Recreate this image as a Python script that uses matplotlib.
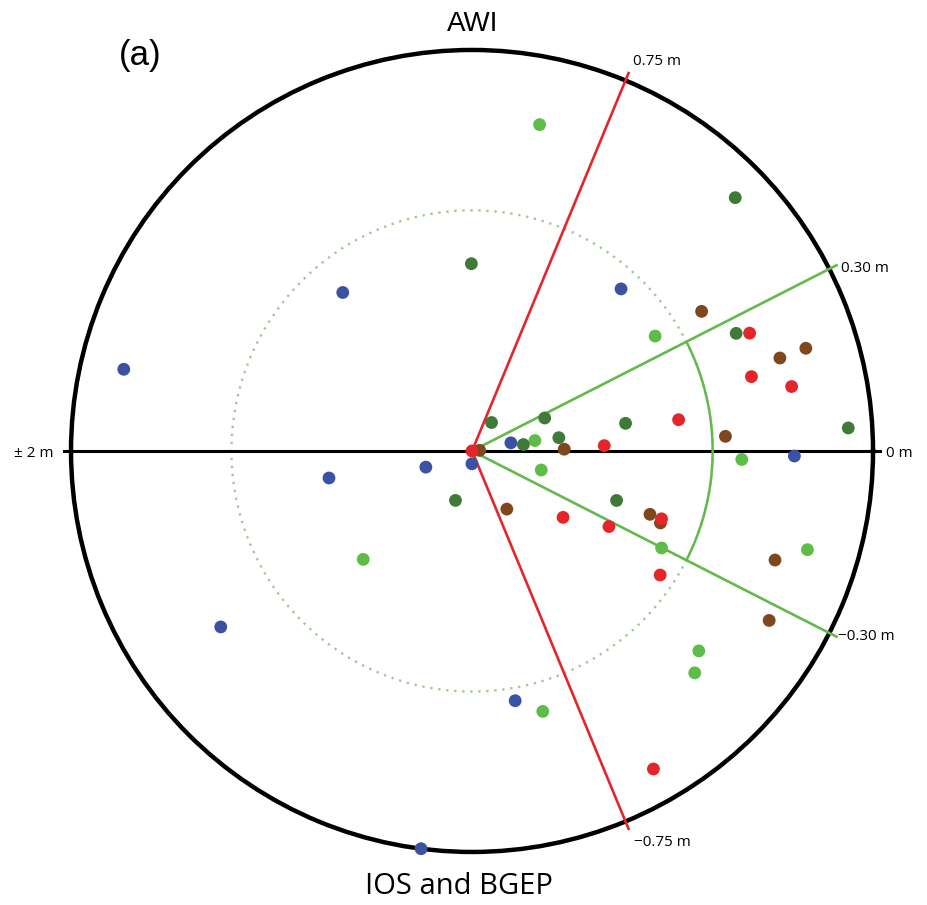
import numpy as np
import matplotlib
matplotlib.use('Agg')
import matplotlib.pyplot as plt

# Each dot: angle in degrees (90 deg per metre of difference, 0 = right)
# and radius normalised to the outer circle.
blue_ang = [129.2, 47.4, 166.8, 11.8, -160.7, -90.5, -169.3, -0.9, -145.0, -80.2, -97.3]
blue_rad = [0.510, 0.549, 0.892, 0.099, 0.122, 0.032, 0.363, 0.804, 0.765, 0.632, 1.0]

lgreen_ang = [78.3, 32.1, 9.4, -15.4, -1.8, -27.1, -16.4, -135.1, -41.4, -44.9, -74.8]
lgreen_rad = [0.831, 0.539, 0.159, 0.179, 0.673, 0.531, 0.872, 0.383, 0.754, 0.784, 0.673]

dgreen_ang = [43.9, 90.2, 24.0, 55.6, 24.4, 10.2, 8.7, 7.1, 3.5, -108.5, -18.9]
dgreen_rad = [0.911, 0.467, 0.721, 0.086, 0.199, 0.389, 0.219, 0.129, 0.940, 0.130, 0.381]

brown_ang = [31.3, 16.8, 17.1, 4.5, 1.1, 3.3, -59.1, -19.6, -20.9, -19.8, -29.7]
brown_rad = [0.670, 0.802, 0.871, 0.019, 0.230, 0.633, 0.169, 0.471, 0.503, 0.803, 0.853]

red_ang = [0.0, 23.0, 14.9, 11.4, 8.6, 2.3, -36.1, -28.9, -19.7, -33.4, -60.3]
red_rad = [0.0, 0.752, 0.721, 0.813, 0.521, 0.330, 0.281, 0.390, 0.502, 0.562, 0.913]

DEG_PER_M = 90.0
green_lim = 0.30   # m
red_lim = 0.75     # m
inner_r = 0.60

C_BLUE = '#3b52a3'
C_LGREEN = '#5dbd48'
C_DGREEN = '#3f7a37'
C_BROWN = '#7e471d'
C_RED = '#e4262b'
C_LINE_G = '#63b94c'

small_font = 'Open Sans'

fig = plt.figure(figsize=(9.27, 9.05), dpi=100)
ax = fig.add_axes([0.0766, 0.0586, 0.8652, 0.8862], projection='polar')
ax.set_ylim(0, 1)
ax.set_xticks([])
ax.set_yticks([])
ax.grid(False)
ax.spines['polar'].set_linewidth(3.2)
ax.spines['polar'].set_color('black')

# horizontal axis (0 m to the right, +-2 m to the left)
for a in (0.0, np.pi):
    ax.plot([a, a], [0, 1.018], color='black', lw=2.2, clip_on=False, zorder=2)

# dotted circle and solid arc
th = np.linspace(0, 2 * np.pi, 400)
ax.plot(th, np.full_like(th, inner_r), color='#a3c998', lw=1.7,
        linestyle=(0, (1, 2.4)), zorder=1)
lim_g = np.radians(green_lim * DEG_PER_M)
th_arc = np.linspace(-lim_g, lim_g, 100)
ax.plot(th_arc, np.full_like(th_arc, inner_r), color=C_LINE_G, lw=1.8, zorder=2)

# threshold spokes
for m, col in ((green_lim, C_LINE_G), (red_lim, C_RED)):
    for s in (1, -1):
        a = np.radians(s * m * DEG_PER_M)
        ax.plot([a, a], [0, 1.02], color=col, lw=1.9, clip_on=False, zorder=3)

# dots
for ang, rad, col in ((blue_ang, blue_rad, C_BLUE),
                      (lgreen_ang, lgreen_rad, C_LGREEN),
                      (dgreen_ang, dgreen_rad, C_DGREEN),
                      (brown_ang, brown_rad, C_BROWN),
                      (red_ang, red_rad, C_RED)):
    ax.scatter(np.radians(ang), rad, s=85, color=col, edgecolors='none',
               clip_on=False, zorder=5)

# spoke labels
labels = [(red_lim, '0.75 m', (3, 8)),
          (green_lim, '0.30 m', (3, -2)),
          (-green_lim, '\u22120.30 m', (1, 0)),
          (-red_lim, '\u22120.75 m', (4, -10))]
for m, txt, off in labels:
    ax.annotate(txt, xy=(np.radians(m * DEG_PER_M), 1.02), xytext=off,
                textcoords='offset points', ha='left', va='center',
                fontsize=11, family=small_font, annotation_clip=False)

fig.text(54 / 927, 1 - 453 / 905, '\u00b1 2 m', ha='right', va='center',
         fontsize=11, family=small_font)
fig.text(886 / 927, 1 - 453 / 905, '0 m', ha='left', va='center',
         fontsize=11, family=small_font)

fig.text(473 / 927, 1 - 31 / 905, 'AWI', ha='center', va='baseline',
         fontsize=20, family='Liberation Sans')
fig.text(459 / 927, 1 - 894 / 905, 'IOS and BGEP', ha='center', va='baseline',
         fontsize=21, family=small_font)
fig.text(140 / 927, 1 - 65 / 905, '(a)', ha='center', va='baseline',
         fontsize=25, family='Liberation Sans')

fig.savefig('out.png', dpi=100)
